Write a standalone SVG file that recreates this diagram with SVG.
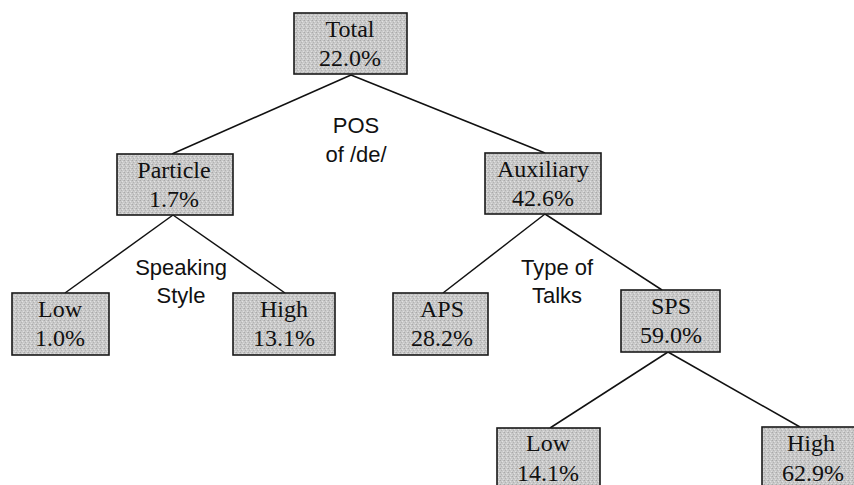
<svg xmlns="http://www.w3.org/2000/svg" width="854" height="485" viewBox="0 0 854 485">
<defs>
<pattern id="tex" width="4" height="4" patternUnits="userSpaceOnUse">
<rect width="4" height="4" fill="#c9c9c9"/>
<rect x="0" y="0" width="1" height="1" fill="#a9a9a9"/>
<rect x="2" y="1" width="1" height="1" fill="#e2e2e2"/>
<rect x="1" y="2" width="1" height="1" fill="#b2b2b2"/>
<rect x="3" y="3" width="1" height="1" fill="#dedede"/>
<rect x="3" y="0" width="1" height="1" fill="#bdbdbd"/>
</pattern>
<style>
.box{fill:url(#tex);stroke:#1a1a1a;stroke-width:1.6}
.t{font-family:"Liberation Serif","Times New Roman",serif;font-size:24px;fill:#111;text-anchor:middle}
.s{font-family:"Liberation Sans",Arial,sans-serif;font-size:22px;fill:#111;text-anchor:middle}
.c{stroke:#111;stroke-width:1.5;fill:none}
</style>
</defs>
<rect width="854" height="485" fill="#fff"/>
<g id="connectors">
<line class="c" x1="351" y1="75" x2="172" y2="154"/>
<line class="c" x1="351" y1="75" x2="545" y2="153"/>
<line class="c" x1="173" y1="215" x2="65" y2="293"/>
<line class="c" x1="173" y1="215" x2="285" y2="293"/>
<line class="c" x1="545" y1="214" x2="443" y2="293"/>
<line class="c" x1="545" y1="214" x2="662" y2="290"/>
<line class="c" x1="668" y1="352" x2="550" y2="428"/>
<line class="c" x1="668" y1="352" x2="800" y2="427"/>
</g>
<g id="total"><rect class="box" x="294" y="13" width="113" height="61"/><text class="t" x="350" y="37">Total</text><text class="t" x="350" y="66">22.0%</text></g>
<g id="particle"><rect class="box" x="117" y="154" width="116" height="61"/><text class="t" x="174" y="178">Particle</text><text class="t" x="174" y="207">1.7%</text></g>
<g id="auxiliary"><rect class="box" x="485" y="153" width="116" height="61"/><text class="t" x="543" y="177">Auxiliary</text><text class="t" x="543" y="206">42.6%</text></g>
<g id="low1"><rect class="box" x="12" y="293" width="97" height="62"/><text class="t" x="60" y="317">Low</text><text class="t" x="60" y="346">1.0%</text></g>
<g id="high1"><rect class="box" x="233" y="293" width="102" height="62"/><text class="t" x="284" y="317">High</text><text class="t" x="284" y="346">13.1%</text></g>
<g id="aps"><rect class="box" x="393" y="293" width="95" height="62"/><text class="t" x="442" y="317">APS</text><text class="t" x="442" y="346">28.2%</text></g>
<g id="sps"><rect class="box" x="621" y="290" width="99" height="62"/><text class="t" x="671" y="314">SPS</text><text class="t" x="671" y="343">59.0%</text></g>
<g id="low2"><rect class="box" x="497" y="428" width="103" height="62"/><text class="t" x="548" y="451">Low</text><text class="t" x="548" y="481">14.1%</text></g>
<g id="high2"><rect class="box" x="762" y="427" width="104" height="62"/><text class="t" x="811" y="451">High</text><text class="t" x="813" y="481">62.9%</text></g>
<g id="labels">
<text class="s" x="356" y="133">POS</text>
<text class="s" x="356" y="162">of /de/</text>
<text class="s" x="181" y="275">Speaking</text>
<text class="s" x="181" y="303">Style</text>
<text class="s" x="557" y="275">Type of</text>
<text class="s" x="557" y="303">Talks</text>
</g>
</svg>
